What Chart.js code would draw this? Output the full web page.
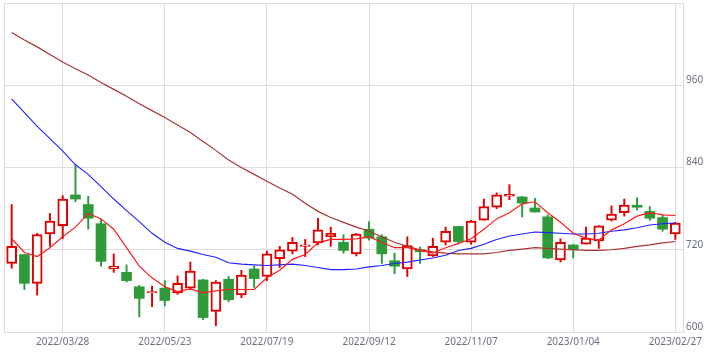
<!DOCTYPE html>
<html><head><meta charset="utf-8">
<script src="https://cdn.jsdelivr.net/npm/chart.js@4/dist/chart.umd.min.js"></script>
<style>html,body{margin:0;padding:0;background:#fff;overflow:hidden}</style>
</head><body>
<canvas id="c" width="711" height="353"></canvas>
<script>
// weekly candles (first trading day of each week)
const weeks = ["2022/02/28","2022/03/07","2022/03/14","2022/03/22","2022/03/28","2022/04/04","2022/04/11","2022/04/18","2022/04/25","2022/05/02","2022/05/09","2022/05/16","2022/05/23","2022/05/30","2022/06/06","2022/06/13","2022/06/20","2022/06/27","2022/07/04","2022/07/11","2022/07/19","2022/07/25","2022/08/01","2022/08/08","2022/08/15","2022/08/22","2022/08/29","2022/09/05","2022/09/12","2022/09/20","2022/09/26","2022/10/03","2022/10/11","2022/10/17","2022/10/24","2022/10/31","2022/11/07","2022/11/14","2022/11/21","2022/11/28","2022/12/05","2022/12/12","2022/12/19","2022/12/26","2023/01/04","2023/01/10","2023/01/16","2023/01/23","2023/01/30","2023/02/06","2023/02/13","2023/02/20","2023/02/27"];
const openP  = [700,713,671,743,755,800,786,758,692,687,666,657,664,657,664,676,630,677,654,692,681,707,718,725,730,739,731,714,750,739,704,692,720,711,731,754,731,763,782,798,797,781,768,705,727,728,733,763,774,785,776,767,743];
const highP  = [786,713,744,773,799,844,798,764,714,698,668,667,675,682,702,677,675,681,690,696,718,725,738,735,766,753,742,744,761,742,715,739,724,737,753,754,763,794,803,815,798,795,771,736,728,753,755,784,794,796,783,771,760];
const lowP   = [693,662,654,725,736,790,750,696,687,673,622,637,638,655,662,618,609,644,650,665,675,694,714,710,727,725,715,711,734,700,685,681,700,710,727,729,728,763,780,793,768,775,707,702,708,728,722,762,769,778,763,747,735];
const closeP = [725,671,742,762,794,794,766,703,696,675,649,659,646,671,689,621,673,647,683,678,714,720,731,727,749,744,719,743,737,714,696,726,717,725,747,732,762,783,800,801,788,775,708,731,720,737,755,772,785,782,766,750,759];
// moving averages
const maShort = [736,716,710,723,739,753,773,765,750,723,696,679,666,659,663,657,660,662,662,662,679,690,706,713,730,735,735,736,739,731,723,723,719,715,723,729,736,750,765,774,787,790,774,760,744,737,734,749,758,769,774,771,770];
const maMid   = [940,920,900,882,864,844,830,812,794,777,761,744,731,722,718,713,709,701,699,698,697,698,699,697,694,691,691,692,695,697,700,702,705,708,712,719,722,728,735,740,743,746,745,744,743,743,744,747,749,752,756,758,759];
const maLong  = [1037,1026,1016,1005,994,984,975,964,954,944,933,923,913,902,891,878,865,851,840,830,820,810,801,788,776,767,760,753,747,739,731,725,720,717,715,714,714,714,716,719,721,723,722,721,720,719,719,720,722,725,727,730,732];
// axis ticks
const xTickIdx = [4,12,20,28,36,44,52];
const yTicks = [600,720,840,960,1080];
const yTickLabels = ["600","720","840","960",""];

const RED = '#e00000', GREEN = '#2f9a3a', GRID = '#dcdcdc';
const isUp = i => closeP[i] >= openP[i];
const n = weeks.length;
const idx = weeks.map((_, i) => i);
const xMin = -0.6, xMax = n - 1 + 0.6;
const font = {family: '"Noto Sans", sans-serif', size: 10};

new Chart(document.getElementById('c'), {
  type: 'bar',
  data: {
    datasets: [
      {type: 'line', label: 'short', data: idx.map(i => ({x: i, y: maShort[i]})), borderColor: '#ff1a1a', borderWidth: 1.2, pointRadius: 0, tension: 0, order: 0},
      {type: 'line', label: 'mid', data: idx.map(i => ({x: i, y: maMid[i]})), borderColor: '#2020ff', borderWidth: 1.1, pointRadius: 0, tension: 0, order: 0},
      {type: 'line', label: 'long', data: idx.map(i => ({x: i, y: maLong[i]})), borderColor: '#a83434', borderWidth: 1.2, pointRadius: 0, tension: 0, order: 0},
      {label: 'body', data: idx.map(i => ({x: i, y: [openP[i], closeP[i] === openP[i] ? openP[i] + 1.5 : closeP[i]]})),
        backgroundColor: idx.map(i => isUp(i) ? '#ffffff' : GREEN),
        borderColor: idx.map(i => isUp(i) ? RED : GREEN),
        borderWidth: idx.map(i => isUp(i) ? 2 : 0),
        barThickness: 10, grouped: false, borderSkipped: false, order: 1},
      {label: 'wick', data: idx.map(i => ({x: i, y: [lowP[i], highP[i]]})),
        backgroundColor: idx.map(i => isUp(i) ? RED : GREEN),
        borderWidth: 0, barThickness: 1.3, grouped: false, borderSkipped: false, order: 2}
    ]
  },
  options: {
    responsive: false, animation: false, devicePixelRatio: 1,
    layout: {padding: {left: 4, top: 3, right: 0, bottom: 0}},
    plugins: {legend: {display: false}, tooltip: {enabled: false}},
    scales: {
      x: {
        type: 'linear', min: xMin, max: xMax, offset: false,
        grid: {offset: false, color: GRID, drawTicks: false},
        border: {color: GRID},
        afterBuildTicks: s => { s.ticks = [xMin, ...xTickIdx, xMax].map(v => ({value: v})); },
        afterFit: s => { s.height = 21; s.paddingLeft = 0; s.paddingRight = 0; },
        ticks: {autoSkip: false, maxRotation: 0, padding: 4, font, color: '#6a7080',
          callback: v => xTickIdx.includes(v) ? weeks[v] : ''}
      },
      y: {
        position: 'right', min: 600, max: 1080,
        grid: {color: GRID, drawTicks: false},
        border: {color: GRID},
        afterBuildTicks: s => { s.ticks = yTicks.map(v => ({value: v})); },
        afterFit: s => { s.width = 28; s.paddingTop = 0; s.paddingBottom = 0; },
        ticks: {align: 'end', padding: 3, font, color: '#6a7080',
          callback: v => yTickLabels[yTicks.indexOf(v)]}
      }
    }
  }
});
</script>
</body></html>
